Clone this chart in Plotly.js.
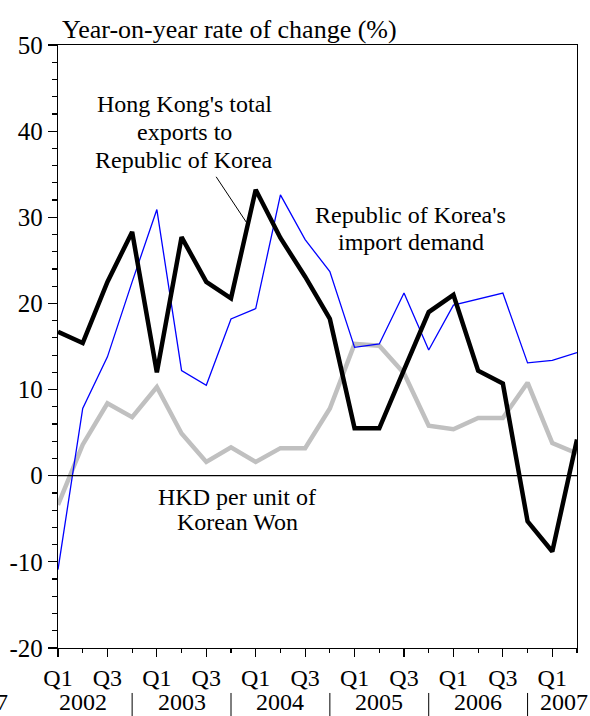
<!DOCTYPE html>
<html><head><meta charset="utf-8">
<script src="https://cdn.plot.ly/plotly-3.0.1.min.js"></script>
<style>html,body{margin:0;padding:0;background:#fff}</style>
</head><body><div id="chart" style="width:590px;height:716px"></div>
<script>
// 22 quarters: Q1 2002 .. Q2 2007
const quarters = ["Q1","Q2","Q3","Q4","Q1","Q2","Q3","Q4","Q1","Q2","Q3","Q4","Q1","Q2","Q3","Q4","Q1","Q2","Q3","Q4","Q1","Q2"];
const years = ["2002","2003","2004","2005","2006","2007"];
const yTickVals = [-20,-10,0,10,20,30,40,50];
const yTickText = ["-20","-10","0","10","20","30","40","50"];
const hkExports = [16.7,15.4,22.5,28.3,12.0,27.7,22.5,20.6,33.2,27.6,23.1,18.2,5.5,5.5,12.3,19.0,21.0,12.2,10.7,-5.3,-8.8,4.2];
const koreaImports = [-10.9,7.8,13.8,22.5,30.9,12.2,10.5,18.2,19.4,32.6,27.4,23.7,14.9,15.3,21.2,14.6,19.8,20.5,21.2,13.1,13.4,14.3];
const hkdPerWon = [-3.4,3.6,8.4,6.8,10.3,4.9,1.6,3.3,1.6,3.2,3.2,7.8,15.3,15.1,11.9,5.8,5.4,6.7,6.7,10.8,3.8,2.6];
const titleText = 'Year-on-year rate of change (%)';
const hkLabel = ["Hong Kong's total","exports to","Republic of Korea"];
const krLabel = ["Republic of Korea's","import demand"];
const fxLabel = ["HKD per unit of","Korean Won"];

const xs = quarters.map((q,i)=>i);
const FONT = 'Liberation Serif';
const TF = {family:FONT, size:25, color:'#000'};
const XF = {family:FONT, size:24, color:'#000'};
const YF = {family:FONT, size:24, color:'#000'};
const AF = {family:FONT, size:24, color:'#000'};

const traces = [
  {x:xs, y:hkdPerWon, mode:'lines', line:{color:'#c0c0c0', width:4.5}, hoverinfo:'skip'},
  {x:xs, y:koreaImports, mode:'lines', line:{color:'#0000ff', width:1.3}, hoverinfo:'skip'},
  {x:xs, y:hkExports, mode:'lines', line:{color:'#000000', width:4.5}, hoverinfo:'skip'}
];

const tickvals = xs.filter(i=>i%2===0);
const ticktext = tickvals.map(i=>quarters[i]);

const annotations = [
  {xref:'paper', yref:'paper', x:0.003, y:1.0, xanchor:'left', yanchor:'bottom', yshift:-1,
   text:titleText, showarrow:false, font:{family:FONT, size:26, color:'#000'}}
];
function addLines(lines, xc, yc){
  lines.forEach((t,i)=>annotations.push({xref:'x', yref:'y', x:xc, y:yc[i], text:t, showarrow:false, font:AF, xanchor:'center', yanchor:'middle'}));
}
addLines(hkLabel, 5.1, [43.2, 39.9, 36.6]);
addLines(krLabel, 14.27, [30.3, 27.1]);
addLines(fxLabel, 7.26, [-2.5, -5.4]);

// year labels under Q2 of each year
years.forEach((yr,k)=>{
  let xpos = 1 + 4*k;
  let anch = 'center', xs_ = 0;
  if (xpos > 20) { xpos = 21; anch = 'right'; xs_ = 13; }
  annotations.push({xref:'x', yref:'paper', x:xpos, y:0, yanchor:'top', xanchor:anch, xshift:xs_, yshift:-39,
    text:yr, showarrow:false, font:YF});
});
// clipped leftover label at far left
annotations.push({xref:'paper', yref:'paper', x:-0.093, y:0, xanchor:'right', yanchor:'top', yshift:-39,
  text:'2007', showarrow:false, font:YF});

const shapes = [
  {type:'line', xref:'paper', yref:'y', x0:0, x1:1, y0:0, y1:0, line:{color:'#000', width:1.2}},
  {type:'line', xref:'x', yref:'y', x0:6.4, y0:34.7, x1:7.65, y1:29.3, line:{color:'#000', width:1}}
];
[3,7,11,15,19].forEach(q=>{
  shapes.push({type:'line', xref:'x', yref:'paper', x0:q, x1:q, y0:-0.0746, y1:-0.115, line:{color:'#000', width:1}});
});

const layout = {
  width:590, height:716,
  margin:{l:58, r:13, t:45, b:68},
  paper_bgcolor:'#fff', plot_bgcolor:'#fff',
  showlegend:false,
  font:TF,
  xaxis:{range:[0,21], tickmode:'array', tickvals:tickvals, ticktext:ticktext,
    ticks:'outside', ticklen:8, tickwidth:1.2, tickcolor:'#000',
    minor:{tickmode:'linear', tick0:0, dtick:1, ticks:'outside', ticklen:4, tickwidth:1.2, tickcolor:'#000', showgrid:false},
    showline:true, linecolor:'#000', linewidth:1.2, mirror:true, showgrid:false, zeroline:false,
    tickfont:XF, fixedrange:true},
  yaxis:{range:[-20,50], tickmode:'array', tickvals:yTickVals, ticktext:yTickText,
    ticks:'outside', ticklen:9, tickwidth:1.2, tickcolor:'#000',
    minor:{tickmode:'linear', tick0:-20, dtick:2, ticks:'outside', ticklen:5, tickwidth:1.2, tickcolor:'#000', showgrid:false},
    showline:true, linecolor:'#000', linewidth:1.2, mirror:true, showgrid:false, zeroline:false,
    tickfont:TF, fixedrange:true},
  annotations:annotations,
  shapes:shapes
};

Plotly.newPlot('chart', traces, layout, {displayModeBar:false, staticPlot:true});
</script>
</body></html>
